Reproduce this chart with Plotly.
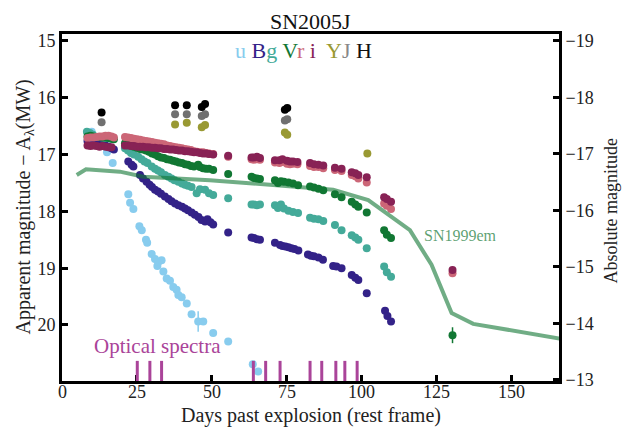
import plotly.graph_objects as go

# ---------------- data ----------------
u_days = [8.9, 9.9, 15.0, 16.9, 22.1, 22.7, 23.8, 25.8, 26.6, 28.0, 28.4, 29.9, 31.0, 31.8, 32.1, 33.2, 33.8,
          34.9, 36.0, 37.1, 38.2, 38.8, 39.9, 41.6, 43.2, 45.4, 47.1, 50.4, 55.4, 63.6, 65.4]
u_mags = [16.62, 16.60, 16.96, 17.15, 17.70, 17.85, 17.96, 18.26, 18.33, 18.50, 18.55, 18.75, 18.84, 18.96, 18.89,
          18.86, 19.06, 19.18, 19.22, 19.33, 19.38, 19.47, 19.51, 19.62, 19.81, 19.94, 19.94, 20.14, 20.29, 20.69, 20.82]
u_errs = [0, 0, 0, 0, 0, 0, 0, 0, 0, 0, 0, 0, 0, 0, 0, 0, 0, 0, 0, 0, 0, 0, 0, 0, 0, 0.18, 0, 0, 0, 0, 0]

B_days = [8.5, 9.5, 10.5, 11.5, 12.5, 13.5, 14.5, 15.5, 16.5, 17.3,
          22.1, 23.2, 23.8, 26.0, 27.0, 28.2, 29.2, 30.0, 31.0, 32.0, 33.0, 34.3, 35.5, 36.5, 37.7, 38.8, 40.0,
          41.0, 42.0, 43.2, 44.3, 45.5, 46.5, 47.7, 48.5, 49.5, 50.4,
          55.4, 63.2, 64.0, 65.0, 66.0, 71.0, 72.7, 73.5, 74.5, 75.5, 76.5, 77.5, 78.8, 82.0, 83.0, 84.0, 85.5,
          87.0, 90.4, 91.5, 93.2, 96.6, 97.8, 98.8, 101.6, 107.7, 108.5, 109.7]
B_mags = [16.76, 16.77, 16.78, 16.79, 16.81, 16.83, 16.84, 16.86, 16.89, 16.91,
          17.12, 17.18, 17.21, 17.36, 17.42, 17.48, 17.53, 17.57, 17.62, 17.65, 17.69, 17.74, 17.78, 17.82, 17.86,
          17.89, 17.92, 17.95, 17.98, 18.02, 18.06, 18.10, 18.15, 18.18, 18.14, 18.19, 18.23,
          18.37, 18.46, 18.47, 18.49, 18.50, 18.55, 18.59, 18.61, 18.62, 18.63, 18.65, 18.66, 18.69, 18.76, 18.78,
          18.79, 18.81, 18.85, 18.96, 18.97, 19.00, 19.12, 19.17, 19.21, 19.44, 19.75, 19.84, 19.94]

g_days = [8.3, 9.3, 10.3, 11.5, 12.5, 13.5, 14.5, 15.5, 16.5,
          21.0, 22.0, 23.0, 24.0, 25.4, 26.5, 27.5, 28.5, 29.9, 31.0, 32.0, 33.0, 34.3, 35.5, 36.5, 37.5, 38.8,
          40.0, 41.0, 42.0, 43.2, 44.9, 46.0, 47.7, 49.0, 50.4,
          55.4, 63.2, 64.0, 65.0, 66.0, 71.0, 72.0, 73.0, 74.0, 75.5, 77.0, 78.7, 82.7, 84.0, 85.5, 87.1, 91.0,
          93.2, 96.6, 97.8, 98.8, 101.6, 107.4, 108.3, 109.7]
g_mags = [16.60, 16.62, 16.65, 16.69, 16.69, 16.70, 16.71, 16.71, 16.72,
          16.89, 16.93, 16.97, 17.00, 17.04, 17.08, 17.12, 17.15, 17.21, 17.25, 17.28, 17.31, 17.36, 17.39, 17.42,
          17.45, 17.48, 17.51, 17.53, 17.55, 17.57, 17.68, 17.61, 17.62, 17.68, 17.71,
          17.77, 17.88, 17.88, 17.89, 17.88, 17.89, 17.94, 17.88, 17.95, 17.99, 18.01, 18.03, 18.11, 18.13, 18.14,
          18.17, 18.24, 18.33, 18.42, 18.46, 18.50, 18.65, 18.97, 19.07, 19.15]

V_days = [8.5, 9.5, 10.5, 11.5, 12.5, 13.5, 14.5, 15.5, 16.5, 17.3,
          21.0, 22.0, 23.0, 24.0, 25.0, 26.0, 27.0, 28.0, 29.0, 30.0, 31.0, 32.0, 33.0, 34.0, 35.0, 36.0, 37.0,
          38.0, 39.0, 40.0, 41.0, 42.0, 43.0, 44.0, 45.4, 46.0, 47.0, 48.0, 49.0, 50.4,
          55.4, 63.2, 64.0, 65.0, 66.0, 71.0, 72.0, 73.0, 74.0, 75.5, 77.0, 78.7, 82.7, 84.0, 85.5, 87.1, 91.0,
          93.2, 96.6, 97.8, 98.8, 101.6, 107.4, 108.3, 109.7, 130.2]
V_mags = [16.68, 16.67, 16.68, 16.69, 16.69, 16.70, 16.70, 16.71, 16.72, 16.73,
          16.80, 16.82, 16.84, 16.86, 16.88, 16.90, 16.91, 16.93, 16.95, 16.98, 17.00, 17.03, 17.05, 17.06, 17.08,
          17.09, 17.11, 17.12, 17.14, 17.15, 17.17, 17.18, 17.20, 17.21, 17.18, 17.22, 17.24, 17.25, 17.25, 17.27,
          17.34, 17.39, 17.41, 17.42, 17.43, 17.45, 17.50, 17.47, 17.48, 17.49, 17.51, 17.54, 17.56, 17.58, 17.60,
          17.63, 17.70, 17.75, 17.83, 17.88, 17.92, 18.02, 18.33, 18.41, 18.47, 20.18]
V_errs = [0] * 65 + [0.14]

r_days = [8.5, 9.5, 10.5, 11.5, 12.5, 13.5, 14.5, 15.5, 16.5, 17.3,
          21.0, 22.0, 23.0, 24.0, 25.0, 26.0, 27.0, 28.0, 29.0, 30.0, 31.0, 32.0, 33.0, 34.0, 35.0, 36.0, 37.0,
          38.0, 39.0, 40.0, 41.0, 42.0, 43.0, 44.0, 45.0, 46.0, 47.0, 48.0, 49.0, 50.4,
          55.4, 63.2, 64.0, 65.0, 66.0, 71.0, 72.5, 73.5, 75.0, 76.0, 77.0, 78.5, 82.7, 84.0, 85.5, 87.1, 91.0,
          93.2, 96.6, 97.8, 98.8, 101.6, 107.4, 108.3, 109.7, 130.2]
r_mags = [16.71, 16.70, 16.70, 16.69, 16.68, 16.68, 16.67, 16.67, 16.68, 16.70,
          16.69, 16.70, 16.71, 16.72, 16.73, 16.74, 16.75, 16.76, 16.77, 16.78, 16.79, 16.80, 16.81, 16.82, 16.84,
          16.85, 16.86, 16.87, 16.88, 16.89, 16.90, 16.91, 16.92, 16.94, 16.95, 16.96, 16.96, 16.97, 16.98, 16.99,
          17.04, 17.08, 17.09, 17.08, 17.09, 17.14, 17.15, 17.13, 17.16, 17.17, 17.16, 17.17, 17.20, 17.22, 17.22,
          17.24, 17.27, 17.29, 17.36, 17.38, 17.42, 17.49, 17.86, 17.90, 17.96, 19.09]

i_days = [8.5, 9.5, 10.5, 11.5, 12.5, 13.5, 14.5, 15.5, 16.5,
          21.0, 22.0, 23.0, 24.0, 25.0, 26.0, 27.0, 28.0, 29.0, 30.0, 31.0, 32.0, 33.0, 34.0, 35.0, 36.0, 37.0,
          38.0, 39.0, 40.0, 41.0, 42.0, 43.0, 44.0, 45.0, 46.0, 47.0, 48.0, 49.0, 50.4,
          55.4, 63.2, 64.0, 65.0, 66.0, 71.0, 72.5, 73.5, 75.0, 76.0, 77.0, 78.5, 82.7, 84.0, 85.5, 87.1, 91.0,
          93.2, 96.6, 97.8, 98.8, 101.6, 107.4, 108.3, 109.7, 130.2]
i_mags = [16.84, 16.85, 16.84, 16.85, 16.86, 16.85, 16.86, 16.87, 16.87,
          16.84, 16.84, 16.85, 16.85, 16.86, 16.86, 16.86, 16.87, 16.87, 16.88, 16.88, 16.89, 16.89, 16.90, 16.90,
          16.91, 16.91, 16.92, 16.93, 16.93, 16.94, 16.94, 16.95, 16.96, 16.96, 16.97, 16.98, 16.98, 16.99, 17.00,
          17.02, 17.05, 17.05, 17.04, 17.06, 17.10, 17.10, 17.08, 17.11, 17.12, 17.12, 17.13, 17.15, 17.17, 17.18,
          17.19, 17.23, 17.25, 17.31, 17.33, 17.36, 17.40, 17.75, 17.78, 17.83, 19.03]

Y_days = [37.7, 41.6, 46.6, 47.7, 74.3, 75.1, 101.8]
Y_mags = [16.47, 16.44, 16.52, 16.48, 16.61, 16.65, 16.98]

J_days = [13.2, 37.7, 41.6, 46.6, 47.7, 74.3, 75.1]
J_mags = [16.43, 16.29, 16.29, 16.32, 16.29, 16.40, 16.38]

H_days = [13.2, 37.7, 41.6, 46.6, 47.7, 74.3, 75.1]
H_mags = [16.26, 16.13, 16.13, 16.16, 16.11, 16.21, 16.18]

em99_days = [4.9, 8.0, 19.3, 27.1, 49.3, 72.7, 90.4, 102.1, 116.0, 123.2, 129.9, 137.1, 150.4, 166.0]
em99_mags = [17.36, 17.26, 17.30, 17.39, 17.45, 17.54, 17.62, 17.80, 18.33, 18.94, 19.79, 19.98, 20.10, 20.24]

spectra_days = [25.1, 29.3, 33.2, 63.8, 67.9, 72.7, 82.7, 86.6, 91.3, 94.3, 98.4]

x_ticks = [0, 25, 50, 75, 100, 125, 150]
y_ticks = [15, 16, 17, 18, 19, 20]
y2_ticks = [-19, -18, -17, -16, -15, -14, -13]

bands = [
    ("u", u_days, u_mags, u_errs, "#88CCEE"),
    ("B", B_days, B_mags, None, "#332288"),
    ("g", g_days, g_mags, None, "#44AA99"),
    ("V", V_days, V_mags, V_errs, "#117733"),
    ("r", r_days, r_mags, None, "#CC6677"),
    ("i", i_days, i_mags, None, "#882255"),
    ("Y", Y_days, Y_mags, None, "#999933"),
    ("J", J_days, J_mags, None, "#707070"),
    ("H", H_days, H_mags, None, "#000000"),
]

FONT = "Liberation Serif"
fig = go.Figure()

for name, d, m, e, c in bands:
    kw = {}
    if e is not None:
        kw["error_y"] = dict(type="data", array=e, visible=True, color=c, thickness=1.5, width=0)
    fig.add_trace(go.Scatter(x=d, y=m, mode="markers", name=name,
                             marker=dict(size=8, color=c, line=dict(width=0)),
                             showlegend=False, **kw))

fig.add_trace(go.Scatter(x=em99_days, y=em99_mags, mode="lines",
                         line=dict(color="rgba(17,119,51,0.6)", width=4),
                         showlegend=False, hoverinfo="skip"))

# helper trace for the right-hand absolute magnitude axis
fig.add_trace(go.Scatter(x=[50], y=[-16], yaxis="y2", mode="markers",
                         marker=dict(opacity=0), showlegend=False, hoverinfo="skip"))

shapes = []
for sd in spectra_days:
    shapes.append(dict(type="line", xref="x", yref="paper", x0=sd, x1=sd, y0=0, y1=0.058,
                       line=dict(color="#AA4499", width=3), layer="above"))

legend_txt = ("<span style='color:#88CCEE'>u</span> "
              "<span style='color:#332288'>B</span>"
              "<span style='color:#44AA99'>g</span> "
              "<span style='color:#117733'>V</span>"
              "<span style='color:#CC6677'>r</span> "
              "<span style='color:#882255'>i</span>  "
              "<span style='color:#999933'>Y</span>"
              "<span style='color:#888888'>J</span> "
              "<span style='color:#111111'>H</span>")

annotations = [
    dict(text="SN2005J", xref="paper", yref="paper", x=0.5, y=1, yshift=13,
         xanchor="center", yanchor="middle", showarrow=False, font=dict(size=22, color="#111")),
    dict(text=legend_txt, xref="paper", yref="paper", x=0.486, y=1, yshift=-16,
         xanchor="center", yanchor="middle", showarrow=False, font=dict(size=22)),
    dict(text="Optical spectra", xref="x", yref="y", x=9.9, y=20.37, xanchor="left", yanchor="middle",
         showarrow=False, font=dict(size=21, color="#AA4499")),
    dict(text="SN1999em", xref="x", yref="y", x=119.9, y=18.42, xanchor="left", yanchor="middle",
         showarrow=False, font=dict(size=16, color="rgba(17,119,51,0.7)")),
    dict(text="Days past explosion (rest frame)", xref="paper", yref="paper", x=0.5, y=0, yshift=-34,
         xanchor="center", yanchor="middle", showarrow=False, font=dict(size=20, color="#222")),
    dict(text="Apparent magnitude \u2212 A<sub>\u03bb</sub>(MW)", xref="paper", yref="paper", x=0, y=0.5,
         xshift=-38, xanchor="center", yanchor="middle", textangle=-90, showarrow=False,
         font=dict(size=20, color="#222")),
    dict(text="Absolute magnitude", xref="paper", yref="paper", x=1, y=0.5, xshift=51, yshift=-4,
         xanchor="center", yanchor="middle", textangle=-90, showarrow=False,
         font=dict(size=18, color="#222")),
]
# x tick labels placed as annotations (tighter to the axis than plotly's default)
for t in x_ticks:
    annotations.append(dict(text=str(t), xref="x", yref="paper", x=t, y=0, yshift=-11,
                            xanchor="center", yanchor="middle", showarrow=False,
                            font=dict(size=18, color="#222")))

fig.update_layout(
    width=622, height=429,
    margin=dict(l=62, r=63, t=34, b=48),
    plot_bgcolor="white", paper_bgcolor="white",
    font=dict(family=FONT, size=18, color="#222"),
    xaxis=dict(range=[0, 165.7], tickvals=x_ticks, ticks="inside", ticklen=6, tickwidth=3,
               tickcolor="black", showline=True, linecolor="black", linewidth=3, mirror=True,
               showgrid=False, zeroline=False, showticklabels=False),
    yaxis=dict(range=[20.986, 14.877], tickvals=y_ticks, ticks="inside", ticklen=6, tickwidth=3,
               tickcolor="black", showline=True, linecolor="black", linewidth=3,
               showgrid=False, zeroline=False, tickfont=dict(size=18)),
    yaxis2=dict(range=[-12.98, -19.12], tickvals=y2_ticks, overlaying="y", side="right",
                ticks="inside", ticklen=6, tickwidth=3, tickcolor="black", showline=True,
                linecolor="black", linewidth=3, showgrid=False, zeroline=False,
                tickfont=dict(size=18)),
    shapes=shapes,
    annotations=annotations,
)

fig.write_html("out.html", config={"displayModeBar": False},
               post_script="document.body.style.margin='0px';document.body.style.overflow='hidden';")
